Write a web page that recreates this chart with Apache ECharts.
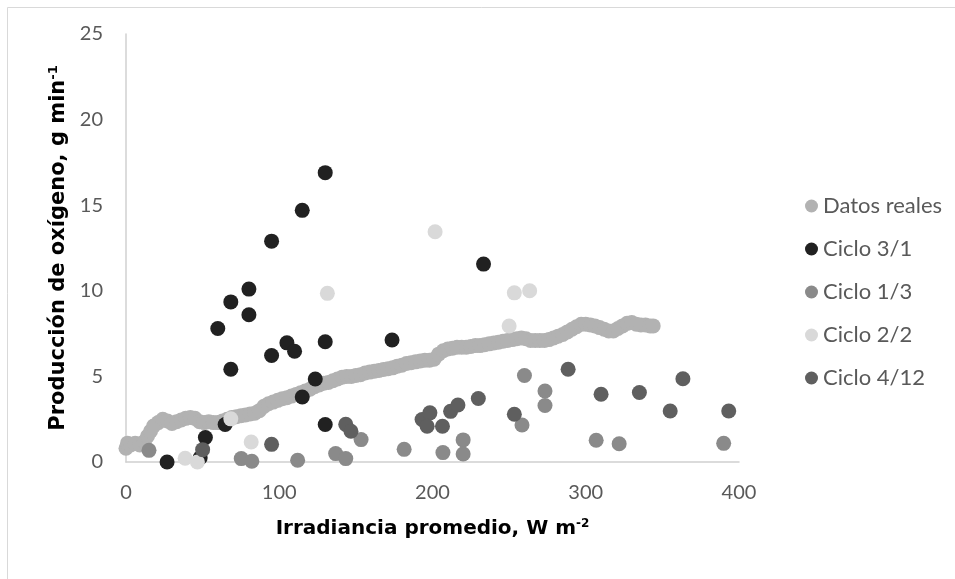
<!DOCTYPE html>
<html>
<head>
<meta charset="utf-8">
<script src="https://cdn.jsdelivr.net/npm/echarts@6/dist/echarts.min.js"></script>
<style>html,body{margin:0;padding:0;background:#fff}#c{width:955px;height:579px}</style>
</head>
<body>
<div id="c"></div>
<script>
// Tick settings
const xTicks = [0, 100, 200, 300, 400];
const yTicks = [0, 5, 10, 15, 20, 25];

// Datos reales (dense measured curve)
const datosReales = [
  [0,0.8],[1,1.1],[3,1.0],[6,1.1],[9,1.0],[12,1.2],[14,1.5],[16,1.8],[18,2.1],[21,2.3],[24,2.5],[27,2.4],
  [30,2.25],[33,2.35],[36,2.45],[39,2.55],[42,2.6],[45,2.55],[48,2.35],[51,2.3],[54,2.35],[57,2.3],[60,2.3],
  [63,2.4],[66,2.5],[69,2.6],[72,2.65],[75,2.7],[78,2.75],[81,2.8],[84,2.85],[87,3.0],[90,3.25],[93,3.4],
  [96,3.5],[99,3.6],[102,3.7],[105,3.75],[108,3.85],[111,3.95],[114,4.05],[117,4.15],[120,4.25],[123,4.4],
  [126,4.5],[129,4.6],[132,4.65],[135,4.75],[138,4.85],[141,4.95],[144,5.0],[147,5.0],[150,5.05],[153,5.1],
  [156,5.2],[159,5.25],[162,5.3],[165,5.35],[168,5.4],[171,5.45],[174,5.5],[177,5.6],[180,5.65],[183,5.75],
  [186,5.8],[189,5.85],[192,5.9],[195,5.95],[198,5.95],[201,6.0],[204,6.3],[207,6.5],[210,6.6],[213,6.65],
  [216,6.7],[219,6.7],[222,6.7],[225,6.75],[228,6.8],[231,6.8],[234,6.85],[237,6.9],[240,6.95],[243,7.0],
  [246,7.05],[249,7.1],[252,7.15],[255,7.2],[258,7.25],[261,7.2],[264,7.1],[267,7.1],[270,7.1],[273,7.1],
  [276,7.15],[279,7.25],[282,7.35],[285,7.45],[288,7.6],[291,7.75],[294,7.9],[297,8.05],[300,8.05],[303,8.0],
  [306,7.95],[309,7.85],[312,7.75],[315,7.65],[318,7.65],[321,7.8],[324,7.95],[327,8.1],[330,8.15],[333,8.05],
  [336,8.0],[339,8.0],[342,7.95],[344,7.95]
];

const ciclo31 = [
  [130,16.9],[115,14.7],[95,12.9],[80.2,10.1],[68.4,9.35],[80.2,8.6],[59.9,7.8],[105,6.96],[110,6.47],
  [95,6.22],[130,7.02],[68.4,5.42],[123.5,4.85],[115,3.8],[64.7,2.19],[130,2.19],[51.8,1.43],[26.8,0.0],
  [48.4,0.25],[233.3,11.56],[173.6,7.13]
];

const ciclo13 = [
  [15,0.68],[75.2,0.2],[82.1,0.04],[112,0.1],[136.8,0.49],[143.4,0.2],[153.4,1.31],[181.5,0.74],
  [206.8,0.55],[220,1.29],[220,0.47],[260,5.05],[258.4,2.16],[273.4,4.15],[273.4,3.3],[306.8,1.27],
  [321.8,1.07],[390,1.09]
];

const ciclo22 = [
  [131.4,9.85],[68.4,2.52],[81.7,1.17],[38.6,0.22],[46.6,0.0],[201.7,13.45],[253.4,9.88],[263.4,10.0],[250,7.94]
];

const ciclo412 = [
  [95,1.03],[50,0.72],[143.4,2.2],[146.8,1.8],[193.2,2.48],[198.3,2.87],[196.5,2.09],[206.5,2.09],
  [211.8,2.96],[216.6,3.33],[229.9,3.71],[253.4,2.79],[288.5,5.42],[310,3.96],[335,4.06],[363.4,4.86],
  [355.1,2.98],[393.3,2.98]
];

const seriesNames = ['Datos reales', 'Ciclo 3/1', 'Ciclo 1/3', 'Ciclo 2/2', 'Ciclo 4/12'];
const seriesColors = ['#b2b2b2', '#212121', '#8a8a8a', '#d9d9d9', '#5f5f5f'];
const seriesData = [datosReales, ciclo31, ciclo13, ciclo22, ciclo412];

const chart = echarts.init(document.getElementById('c'), null, {renderer: 'canvas'});
const labelFont = 'Lato, "Open Sans", sans-serif';
const titleFont = '"DejaVu Sans", sans-serif';

chart.setOption({
  animation: false,
  backgroundColor: '#ffffff',
  graphic: [{
    type: 'rect', left: 5, top: 5, silent: true,
    shape: {width: 1100, height: 700},
    style: {fill: 'none', stroke: '#d9d9d9', lineWidth: 1}
  }],
  grid: {left: 126, right: 216, top: 34, bottom: 117, containLabel: false},
  legend: {
    orient: 'vertical', left: 800, top: 190,
    icon: 'circle', itemWidth: 13, itemHeight: 13, itemGap: 21,
    textStyle: {color: '#595959', fontSize: 22, fontFamily: labelFont},
    data: seriesNames
  },
  xAxis: {
    type: 'value', min: xTicks[0], max: xTicks[xTicks.length-1], interval: 100,
    splitLine: {show: false}, axisTick: {show: false},
    axisLine: {show: true, lineStyle: {color: '#d0d0d0', width: 1.5}},
    axisLabel: {color: '#595959', fontSize: 20, fontFamily: labelFont, margin: 21},
    name: '{b|Irradiancia promedio, W m}{s|-2}',
    nameLocation: 'middle', nameGap: 56,
    nameTextStyle: {
      rich: {
        b: {fontSize: 20, fontWeight: 'bold', color: '#000', fontFamily: titleFont},
        s: {fontSize: 12, fontWeight: 'bold', color: '#000', fontFamily: titleFont, verticalAlign: 'top', padding: [0,0,10,0]}
      }
    }
  },
  yAxis: {
    type: 'value', min: yTicks[0], max: yTicks[yTicks.length-1], interval: 5,
    splitLine: {show: false}, axisTick: {show: false},
    axisLine: {show: true, lineStyle: {color: '#d0d0d0', width: 1.5}},
    axisLabel: {color: '#595959', fontSize: 20, fontFamily: labelFont, margin: 23},
    name: '{b|Producción de oxígeno, g min}{s|-1}',
    nameLocation: 'middle', nameGap: 54, nameRotate: 90,
    nameTextStyle: {
      rich: {
        b: {fontSize: 21, fontWeight: 'bold', color: '#000', fontFamily: titleFont},
        s: {fontSize: 13, fontWeight: 'bold', color: '#000', fontFamily: titleFont, verticalAlign: 'top', padding: [0,0,10,0]}
      }
    }
  },
  series: seriesNames.map((n, i) => ({
    name: n, type: 'scatter', data: seriesData[i],
    symbol: 'circle', symbolSize: 15,
    itemStyle: {color: seriesColors[i], opacity: 1},
    emphasis: {disabled: true}
  }))
});
</script>
</body>
</html>
